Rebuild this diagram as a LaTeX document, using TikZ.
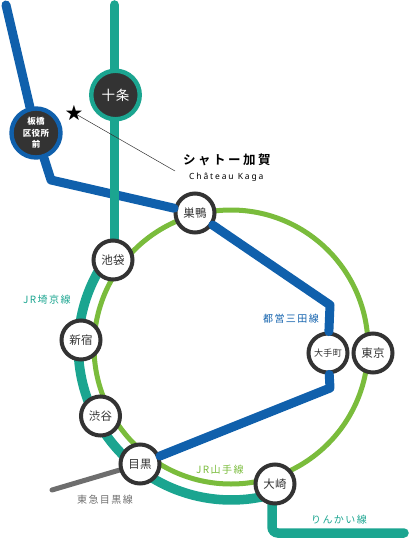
\documentclass[tikz,border=0pt]{standalone}
\usepackage{fontspec}
\setmainfont{Noto Sans CJK JP}
\newfontfamily\jp[LetterSpace=4]{Noto Sans CJK JP}
\newfontfamily\jpwide[LetterSpace=14]{Noto Sans CJK JP}
\newfontfamily\jptitle[LetterSpace=20,BoldFont={Noto Sans CJK JP Bold}]{Noto Sans CJK JP}
\newfontfamily\latinsp[LetterSpace=22]{Noto Sans}
\newfontfamily\sym{DejaVu Sans}
\definecolor{teal1}{HTML}{1BA590}
\definecolor{blue1}{HTML}{1060AC}
\definecolor{green1}{HTML}{7ABC3C}
\definecolor{dark1}{HTML}{333333}
\definecolor{grey1}{HTML}{6E6E6E}
\tikzset{
 stn/.style={circle,draw=dark1,line width=4pt,fill=white,minimum size=39pt,inner sep=0pt,align=center,text=dark1,font=\jp\fontsize{11.5}{12}\selectfont},
 big/.style={circle,fill=dark1,line width=4.4pt,inner sep=0pt,align=center,text=white},
 teal line/.style={draw=teal1,line width=9.5pt},
 blue line/.style={draw=blue1,line width=9pt,line join=round,line cap=round},
 lab/.style={font=\jpwide\fontsize{10}{11}\selectfont,inner sep=0pt},
}
\begin{document}
\begin{tikzpicture}[x=1pt,y=-1pt]
\useasboundingbox (0,0) rectangle (410,540);
\coordinate (blueTop) at (6,5);
\coordinate (blueA) at (51,180);
\coordinate (blueB) at (330,305);
\coordinate (blueC) at (330,388);
\coordinate (tealTop) at (114.5,5);
\coordinate (tealEnd) at (404,533);
\coordinate (tealCorner) at (272,533);
\coordinate (tokyuEnd) at (52,490);
\coordinate (centre) at (231,347);
\coordinate (tealArcStart) at (107.2,257.5);
\coordinate (starPoint) at (74,113);
\coordinate (leaderEnd) at (175,171);
% green circle
\draw[green1,line width=5pt] (centre) circle[radius=137];
% teal outer arc
\draw[teal line] (tealArcStart) arc[start angle=215.8,end angle=73,radius=153];
\draw[teal line,line cap=round] (tealTop) -- (114.5,260);
\draw[teal line,line cap=round,rounded corners=6pt] (272,484) -- (tealCorner) -- (tealEnd);
% tokyu
\draw[grey1,line width=5pt,line cap=round] (tokyuEnd) -- (140,464);
% stations
\node[big,draw=blue1,minimum size=49pt,font=\jp\fontsize{8.5}{11.5}\selectfont\bfseries] (itabashi) at (36,133) {板橋\\区役所\\前};
\node[big,draw=teal1,minimum size=48.5pt,font=\jp\fontsize{13.5}{14}\selectfont] (jujo) at (115.5,95) {十条};
\node[stn] (sugamo) at (195,213) {巣鴨};
\node[stn] (ikebukuro) at (113,260) {池袋};
\node[stn] (shinjuku) at (81,340) {新宿};
\node[stn] (shibuya) at (100.5,416) {渋谷};
\node[stn] (meguro) at (140,464) {目黒};
\node[stn] (osaki) at (275,484) {大崎};
\node[stn,font=\jp\fontsize{9}{10}\selectfont] (otemachi) at (328,353) {大手町};
\node[stn] (tokyo) at (373,353) {東京};
% blue line
\draw[blue line] (blueTop) -- (itabashi);
\draw[blue line] (itabashi) -- (blueA) -- (sugamo);
\draw[blue line] (sugamo) -- (blueB) -- (otemachi);
\draw[blue line] (otemachi) -- (blueC) -- (meguro);
% the teal line passes over the blue one at the crossing
\draw[teal1,line width=9.5pt] (114.5,187) -- (114.5,205);
% labels
\draw[black!80,line width=.5pt] (starPoint) -- (leaderEnd);
\node[inner sep=0pt,font=\sym\fontsize{21}{21}\selectfont] (star) at (starPoint) {★};
\node[inner sep=0pt,anchor=west,font=\jptitle\fontsize{12.5}{13}\selectfont\bfseries] (kaga) at (183,160) {シャトー加賀};
\node[inner sep=0pt,anchor=west,font=\latinsp\fontsize{8.5}{9}\selectfont] (kagaen) at (189,177) {Château Kaga};
\node[lab,text=teal1,anchor=west] (l1) at (23,300) {JR埼京線};
\node[lab,text=blue1,anchor=west] (l2) at (263,319) {都営三田線};
\node[lab,text=green1,anchor=west] (l3) at (196,470) {JR山手線};
\node[lab,text=grey1,anchor=west] (l4) at (77,500) {東急目黒線};
\node[lab,text=teal1,anchor=west] (l5) at (311,520) {りんかい線};
\end{tikzpicture}
\end{document}
